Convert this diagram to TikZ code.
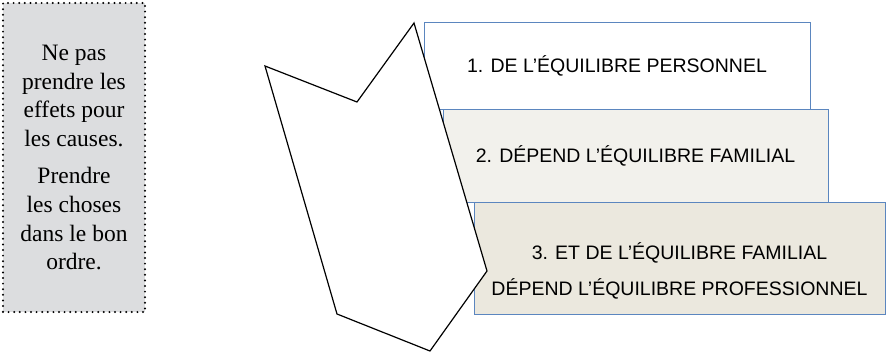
\documentclass[tikz,border=0pt]{standalone}
\usepackage{fontspec}
\setmainfont{Liberation Serif}
\setsansfont{Liberation Sans}
\usetikzlibrary{shadows}
\definecolor{notegray}{HTML}{DCDDDF}
\definecolor{boxblue}{HTML}{5B86BF}
\definecolor{fillb}{HTML}{F2F1EC}
\definecolor{fillc}{HTML}{EBE8DE}
\begin{document}
\begin{tikzpicture}[x=1pt,y=-1pt,
  level/.style={draw=boxblue, line width=0.9pt, inner sep=0pt,
    font=\sffamily\fontsize{19.5}{36}\selectfont, text height=14pt, text depth=0pt,
    drop shadow={shadow xshift=1.4pt, shadow yshift=-1.4pt, fill=boxblue!60!black, opacity=0.8}},
  leveltext/.style={font=\sffamily\fontsize{19.5}{36}\selectfont, align=center}]
\useasboundingbox (0,0) rectangle (886,356);
% side note
\node[draw=black, line width=2.2pt, line cap=round, dash pattern=on 0pt off 5.6pt,
  fill=notegray, minimum width=142pt, minimum height=309pt, align=center,
  font=\fontsize{23.5}{28.6}\selectfont] (note) at (74,157.5)
  {Ne pas\\prendre les\\effets pour\\les causes.\\[9pt]Prendre\\les choses\\dans le bon\\ordre.};
% stacked levels
\node[level, fill=white, minimum width=386pt, minimum height=87pt] (lvl1) at (617,65.5)
  {1. DE L’ÉQUILIBRE PERSONNEL};
\node[level, fill=fillb, minimum width=385pt, minimum height=93pt] (lvl2) at (635.5,155.5)
  {2. DÉPEND L’ÉQUILIBRE FAMILIAL};
\node[level, fill=fillc, minimum width=411pt, minimum height=112pt] (lvl3) at (679.5,258) {};
\node[leveltext, yshift=-13pt] (t3) at (lvl3.center)
  {3. ET DE L’ÉQUILIBRE FAMILIAL\\DÉPEND L’ÉQUILIBRE PROFESSIONNEL};
% arrow shape
\draw[line width=1.2pt, fill=white] (265,66) -- (357,102) -- (414,23) -- (487,271)
  -- (430,351) -- (337,314) -- cycle;
\end{tikzpicture}
\end{document}
